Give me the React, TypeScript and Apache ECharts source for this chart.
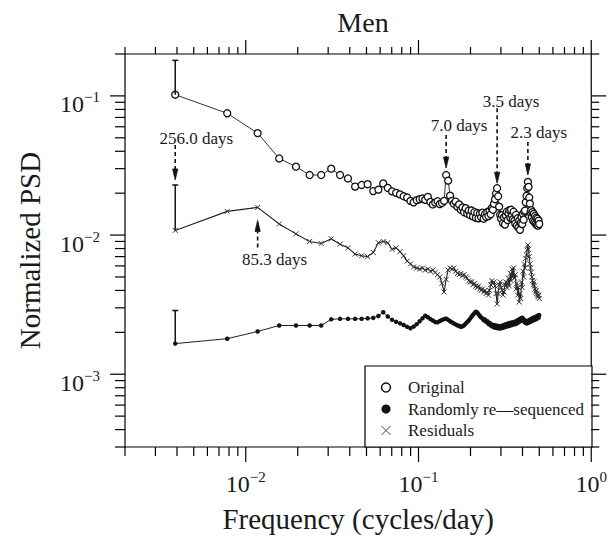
import React, { useEffect, useRef } from 'react';
import * as echarts from 'echarts';

// ---------------- data ----------------
const nDays = 256;

const original = [
  0.102, 0.075, 0.054, 0.0355, 0.031, 0.027, 0.027, 0.030, 0.027, 0.0255,
  0.0223, 0.0229, 0.0232, 0.0207, 0.0212, 0.0235, 0.0218, 0.0206, 0.0201, 0.0196,
  0.0190, 0.0186, 0.0176, 0.0172, 0.0178, 0.0181, 0.0183, 0.0179, 0.0188, 0.0173,
  0.0166, 0.0171, 0.0175, 0.0167, 0.0170, 0.0176, 0.0270, 0.0246, 0.0192, 0.0176,
  0.0168, 0.0174, 0.0160, 0.0166, 0.0152, 0.0158, 0.0146, 0.0156, 0.0143, 0.0150,
  0.0139, 0.0150, 0.0136, 0.0146, 0.0133, 0.0144, 0.0132, 0.0142, 0.0134, 0.0145,
  0.0131, 0.0141, 0.0135, 0.0146, 0.0137, 0.0149, 0.0141, 0.0156, 0.0152, 0.0168,
  0.0181, 0.0199, 0.0217, 0.0190, 0.0160, 0.0140, 0.0131, 0.0139, 0.0122, 0.0134,
  0.0119, 0.0138, 0.0147, 0.0128, 0.0143, 0.0151, 0.0133, 0.0152, 0.0138, 0.0130,
  0.0147, 0.0127, 0.0121, 0.0140, 0.0117, 0.0132, 0.0113, 0.0127, 0.0109, 0.0122,
  0.0135, 0.0120, 0.0142, 0.0129, 0.0147, 0.0150, 0.0172, 0.0191, 0.0217, 0.0241,
  0.0222, 0.0186, 0.0168, 0.0145, 0.0151, 0.0134, 0.0146, 0.0127, 0.0142, 0.0124,
  0.0137, 0.0121, 0.0133, 0.0118, 0.0131, 0.0117, 0.0127, 0.0120,
];

const randomSeq = [
  0.00166, 0.00180, 0.00203, 0.00224, 0.00224, 0.00224, 0.00224, 0.00248, 0.00250, 0.00250,
  0.00250, 0.00250, 0.00252, 0.00254, 0.00262, 0.00279, 0.00260, 0.00246, 0.00238, 0.00232,
  0.00226, 0.00219, 0.00214, 0.00220, 0.00229, 0.00240, 0.00252, 0.00263, 0.00257, 0.00249,
  0.00243, 0.00237, 0.00236, 0.00241, 0.00245, 0.00249, 0.00251, 0.00246, 0.00240, 0.00236,
  0.00232, 0.00228, 0.00225, 0.00222, 0.00219, 0.00221, 0.00225, 0.00231, 0.00237, 0.00243,
  0.00251, 0.00260, 0.00268, 0.00275, 0.00281, 0.00278, 0.00270, 0.00262, 0.00256, 0.00252,
  0.00244, 0.00248, 0.00238, 0.00240, 0.00230, 0.00234, 0.00224, 0.00228, 0.00219, 0.00226,
  0.00216, 0.00224, 0.00215, 0.00222, 0.00213, 0.00221, 0.00214, 0.00223, 0.00216, 0.00226,
  0.00218, 0.00229, 0.00220, 0.00231, 0.00222, 0.00233, 0.00224, 0.00235, 0.00226, 0.00236,
  0.00228, 0.00238, 0.00229, 0.00240, 0.00232, 0.00244, 0.00236, 0.00248, 0.00240, 0.00252,
  0.00244, 0.00255, 0.00243, 0.00249, 0.00237, 0.00243, 0.00233, 0.00240, 0.00232, 0.00241,
  0.00235, 0.00245, 0.00237, 0.00248, 0.00240, 0.00251, 0.00243, 0.00254, 0.00245, 0.00256,
  0.00247, 0.00258, 0.00249, 0.00261, 0.00252, 0.00264, 0.00255, 0.00266,
];

const residuals = [
  0.0108, 0.0148, 0.0158, 0.0120, 0.0102, 0.0090, 0.0087, 0.0094, 0.0086, 0.0081,
  0.0073, 0.0071, 0.0070, 0.0075, 0.0088, 0.0090, 0.0088, 0.0079, 0.0081, 0.0076,
  0.0071, 0.0065, 0.0062, 0.0059, 0.0058, 0.0057, 0.0058, 0.0056, 0.0057, 0.0055,
  0.0056, 0.0054, 0.0052, 0.0050, 0.0045, 0.0039, 0.0048, 0.0056, 0.0058, 0.0057,
  0.0058, 0.0055, 0.0053, 0.0052, 0.0053, 0.0051, 0.0052, 0.0050, 0.0049, 0.0047,
  0.0046, 0.0046, 0.0044, 0.0045, 0.0043, 0.0042, 0.0043, 0.0041, 0.0040, 0.0041,
  0.0039, 0.0040, 0.0038, 0.0039, 0.0037, 0.0040, 0.0044, 0.0047, 0.0045, 0.0046,
  0.0043, 0.0038, 0.0032, 0.0038, 0.0044, 0.0046, 0.0042, 0.0040, 0.0037, 0.0039,
  0.0044, 0.0046, 0.0042, 0.0045, 0.0049, 0.0043, 0.0053, 0.0047, 0.0057, 0.0050,
  0.0058, 0.0049, 0.0052, 0.0041, 0.0045, 0.0037, 0.0042, 0.0033, 0.0038, 0.0035,
  0.0046, 0.0042, 0.0055, 0.0050, 0.0062, 0.0058, 0.0068, 0.0072, 0.0078, 0.0085,
  0.0079, 0.0070, 0.0062, 0.0058, 0.0054, 0.0050, 0.0047, 0.0044, 0.0046, 0.0043,
  0.0041, 0.0039, 0.0040, 0.0038, 0.0037, 0.0036, 0.0037, 0.0035,
];

// frequency grid of the periodogram: k / 256 cycles/day
const frequencies = original.map((_, i) => (i + 1) / nDays);

// upper end of the error bar drawn at the lowest frequency: original, randomly re-sequenced, residuals
const errorBarTop = [0.18, 0.00287, 0.0229];

const annotLabels = ['256.0 days', '85.3 days', '7.0 days', '3.5 days', '2.3 days'];
const annotFreqIndex = [0, 2, 36, 72, 109];
const annotAnchor = [errorBarTop[2], residuals[2], original[36], original[72], original[109]];

const seriesNames = ['Original', 'Randomly re\u2014sequenced', 'Residuals'];

// ---------------- styles ----------------
const FONT = '"Liberation Serif", "Times New Roman", serif';
const TXT = '#1a1a1a';
const X_MIN = 0.002, X_MAX = 1, Y_MIN = 0.0003, Y_MAX = 0.2;
const TICK = { bMaj: 15, bMin: 9, tMaj: 14, tMin: 7, lMaj: 15, lMin: 10, rMaj: 15, rMin: 8 };
// arrow layout (pixels): direction (-1 up the page), gap from anchor, length, label offset
const annotLayout = [
  { dir: -1, gap: 5, len: 35, dx: 21, dy: -46 },
  { dir: 1, gap: 13, len: 27, dx: 17, dy: 52 },
  { dir: -1, gap: 7, len: 33, dx: 13, dy: -50 },
  { dir: -1, gap: 5, len: 75, dx: 14, dy: -87 },
  { dir: -1, gap: 7, len: 33, dx: 11, dy: -49 },
];

const logTicks = (lo: number, hi: number, minor: boolean) => {
  const out: number[] = [];
  for (let e = -5; e <= 1; e++) {
    const ms = minor ? [2, 3, 4, 5, 6, 7, 8, 9] : [1];
    for (const m of ms) {
      const v = m * Math.pow(10, e);
      if (v >= lo * 0.999 && v <= hi * 1.001) out.push(v);
    }
  }
  return out;
};

const expLabel = (v: number) => {
  const e = Math.round(Math.log10(v));
  return `{b|10}{s|${e < 0 ? '\u2212' + -e : e}}`;
};

const richLabel = {
  b: { fontFamily: FONT, fontSize: 24, color: TXT, lineHeight: 24, padding: [5, 0, 0, 0] },
  s: { fontFamily: FONT, fontSize: 15, color: TXT, lineHeight: 15, verticalAlign: 'top' },
};

export default function App() {
  const ref = useRef<HTMLDivElement>(null);
  useEffect(() => {
    if (!ref.current) return;
    const chart = echarts.init(ref.current, undefined, { renderer: 'svg' });

    const xMajor = logTicks(X_MIN, X_MAX, false);
    const xMinor = [X_MIN, ...logTicks(X_MIN, X_MAX, true)].filter((v, i, a) => a.indexOf(v) === i);
    const yMajor = logTicks(Y_MIN, Y_MAX, false);
    const yMinor = [...logTicks(Y_MIN, Y_MAX, true)];

    const option: any = {
      animation: false,
      backgroundColor: '#fff',
      title: {
        text: 'Men',
        left: 358,
        top: 3,
        textAlign: 'center',
        textStyle: { fontFamily: FONT, fontSize: 28, fontWeight: 'normal', color: TXT },
      },
      grid: {
        left: 125, top: 54, width: 467, height: 393,
        show: true, borderColor: '#000', borderWidth: 1.2, backgroundColor: 'transparent',
      },
      legend: {
        orient: 'vertical',
        left: 374,
        top: 374,
        itemGap: 4.5,
        itemWidth: 34,
        itemHeight: 9,
        textStyle: { fontFamily: FONT, fontSize: 17, color: TXT },
        data: [
          { name: seriesNames[0], icon: 'circle', itemStyle: { color: '#fff', borderColor: '#111', borderWidth: 1.5 } },
          { name: seriesNames[1], icon: 'circle', itemStyle: { color: '#111', borderWidth: 0 } },
          { name: seriesNames[2], icon: 'path://M0 0L10 10M10 0L0 10', itemStyle: { color: 'none', borderColor: '#444', borderWidth: 1 } },
        ],
        selectedMode: false,
        z: 12,
      },
      graphic: [
        {
          type: 'rect', z: 5,
          shape: { x: 365, y: 366, width: 227, height: 81 },
          style: { fill: '#fff', stroke: '#000', lineWidth: 1.2 },
        },
      ],
      xAxis: {
        type: 'log', logBase: 10, min: X_MIN, max: X_MAX,
        axisLine: { show: false }, axisTick: { show: false }, splitLine: { show: false },
        axisLabel: { showMinLabel: false, margin: 22, formatter: expLabel, rich: richLabel },
        name: 'Frequency (cycles/day)', nameLocation: 'middle', nameGap: 57,
        nameTextStyle: { fontFamily: FONT, fontSize: 29, color: TXT },
      },
      yAxis: {
        type: 'log', logBase: 10, min: Y_MIN, max: Y_MAX,
        axisLine: { show: false }, axisTick: { show: false }, splitLine: { show: false },
        axisLabel: {
          showMinLabel: false, showMaxLabel: false, margin: 25,
          padding: [12, 0, 0, 0], formatter: expLabel, rich: richLabel,
        },
        name: 'Normalized PSD', nameLocation: 'middle', nameGap: 81,
        nameTextStyle: { fontFamily: FONT, fontSize: 29, color: TXT },
      },
      series: [
        {
          name: seriesNames[0], type: 'line',
          data: frequencies.map((f, i) => [f, original[i]]),
          symbol: 'circle', symbolSize: 7,
          lineStyle: { color: '#333', width: 1 },
          itemStyle: { color: '#fff', borderColor: '#111', borderWidth: 1.3 },
          z: 4,
        },
        {
          name: seriesNames[1], type: 'line',
          data: frequencies.map((f, i) => [f, randomSeq[i]]),
          symbol: 'circle', symbolSize: 4.5,
          lineStyle: { color: '#222', width: 1 },
          itemStyle: { color: '#111' },
          z: 3,
        },
        {
          name: seriesNames[2], type: 'line',
          data: frequencies.map((f, i) => [f, residuals[i]]),
          symbol: 'path://M0 0L10 10M10 0L0 10', symbolSize: 5,
          lineStyle: { color: '#222', width: 1.1 },
          itemStyle: { color: 'none', borderColor: '#333', borderWidth: 1 },
          z: 3,
        },
        {
          type: 'custom', name: 'errorbars', silent: true, z: 5,
          data: [
            [frequencies[0], original[0], errorBarTop[0]],
            [frequencies[0], randomSeq[0], errorBarTop[1]],
            [frequencies[0], residuals[0], errorBarTop[2]],
          ],
          renderItem: (params: any, api: any) => {
            const p1 = api.coord([api.value(0), api.value(1)]);
            const p2 = api.coord([api.value(0), api.value(2)]);
            const st = { stroke: '#111', lineWidth: 1.5 };
            return {
              type: 'group',
              children: [
                { type: 'line', shape: { x1: p1[0], y1: p1[1], x2: p2[0], y2: p2[1] }, style: st },
                { type: 'line', shape: { x1: p2[0] - 3, y1: p2[1], x2: p2[0] + 3, y2: p2[1] }, style: st },
              ],
            };
          },
        },
        {
          type: 'custom', name: 'annotations', silent: true, z: 6,
          data: annotFreqIndex.map((k, i) => [frequencies[k], annotAnchor[i]]),
          renderItem: (params: any, api: any) => {
            const i = params.dataIndex;
            const L = annotLayout[i];
            const p = api.coord([api.value(0), api.value(1)]);
            const x = p[0];
            const tipY = p[1] + L.dir * L.gap;
            const headLen = 11;
            const headW = 2.6;
            const headBase = tipY + L.dir * headLen;
            const tailY = tipY + L.dir * L.len;
            return {
              type: 'group',
              children: [
                {
                  type: 'line',
                  shape: { x1: x, y1: tailY, x2: x, y2: headBase },
                  style: { stroke: '#111', lineWidth: 1.6, lineDash: [4, 3] },
                },
                {
                  type: 'polygon',
                  shape: { points: [[x - headW, headBase], [x + headW, headBase], [x, tipY]] },
                  style: { fill: '#111', stroke: '#111', lineWidth: 0.8 },
                },
                {
                  type: 'text',
                  x: x + L.dx,
                  y: p[1] + L.dy,
                  style: {
                    text: annotLabels[i], fontFamily: FONT, fontSize: 17, fill: TXT,
                    align: 'center', verticalAlign: 'middle',
                  },
                },
              ],
            };
          },
        },
        {
          type: 'custom', name: 'ticks', silent: true, z: 7,
          data: [[0.01, 0.01]],
          renderItem: (params: any, api: any) => {
            const cs = params.coordSys;
            const left = cs.x, top = cs.y, right = cs.x + cs.width, bottom = cs.y + cs.height;
            const children: any[] = [];
            const seg = (x1: number, y1: number, x2: number, y2: number) =>
              children.push({ type: 'line', shape: { x1, y1, x2, y2 }, style: { stroke: '#000', lineWidth: 1.2 } });
            xMajor.forEach((v) => {
              const x = api.coord([v, Y_MIN])[0];
              seg(x, bottom, x, bottom + TICK.bMaj);
              seg(x, top, x, top - TICK.tMaj);
            });
            xMinor.forEach((v) => {
              const x = api.coord([v, Y_MIN])[0];
              seg(x, bottom, x, bottom + TICK.bMin);
              seg(x, top, x, top - TICK.tMin);
            });
            yMajor.forEach((v) => {
              const y = api.coord([X_MIN, v])[1];
              seg(left, y, left - TICK.lMaj, y);
              seg(right, y, right + TICK.rMaj, y);
            });
            yMinor.forEach((v) => {
              const y = api.coord([X_MIN, v])[1];
              seg(left, y, left - TICK.lMin, y);
              seg(right, y, right + TICK.rMin, y);
            });
            return { type: 'group', children };
          },
        },
      ],
    };

    chart.setOption(option);
    return () => chart.dispose();
  }, []);

  return (
    <div
      ref={ref}
      style={{ position: 'absolute', left: 0, top: 0, width: 610, height: 542, background: '#fff' }}
    />
  );
}
